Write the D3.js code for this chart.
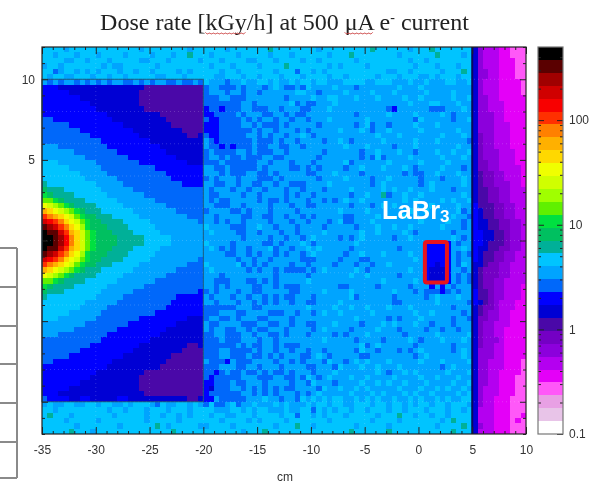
<!DOCTYPE html>
<html>
<head>
<meta charset="utf-8">
<script src="https://cdnjs.cloudflare.com/ajax/libs/d3/7.8.5/d3.min.js"></script>
<style>
  html, body { margin: 0; background: #fff; }
  svg { display: block; filter: blur(0.5px); }
  text { font-family: "Liberation Sans", sans-serif; fill: #333; }
</style>
</head>
<body>
<div id="chart"></div>
<script>
// one letter per cell = colour band, a is the lowest band, D the highest
const bandLetters = "abcdefghijklmnopqrstuvwxyzABCD";
const bandColors = [
  "#ffffff", "#e8c4e8", "#e8a0e4", "#ff58f8", "#e400f8", "#b400f0",
  "#8c00dc", "#7400c4", "#4a08a8", "#0000d4", "#0000ff", "#0068fa",
  "#00a4ff", "#00c4ff", "#00b098", "#00c060", "#00e040", "#60f000",
  "#a0ff00", "#d0ff00", "#f0ff00", "#ffd800", "#ffb000", "#ff8000",
  "#ff3000", "#f80000", "#d00000", "#a00000", "#5a0000", "#000000"
];

// 72 rows top to bottom, 90 columns: panel (30), open area (50), back wall (10)
const doseRows = [
  "nnnnmnnnnnnnnnnnnnmnnnnnnnnmnn nnnnmnnnnn nnonnnnnnn nmnnnnnnnn nonnnnnnmn nnonnnnnnn jgfffeeddd",
  "nnmnnnmnnnmnnnnmnnnnmnnnmnnonn nmnnnnmnnn nnmnnnmnnn nnnmnnnonn nnnnnnmnnn nnnonnnnmn jgfffeeddd",
  "nnnnmmnnmnnnmnnnnnmmnnnmnnnnnm nnnmnnnnmm nnnmnnnnmn nmnnnnnnmn nnnnnnnnmn nmnnnnnnnn jgfffeeedd",
  "mnnmnnnnnnnmnmmnnnnnnmnnnnnnnn nmnnnmnnnn mnnnnonnnn nnnmnmnnnn mnnnnnnnnm nnnmnnnmnn jgfffeeedd",
  "nnlmnnmnmnmnnnmnnmnnmnnnnmnmnn nnnmnnmnnn nnnmnnnlnn mnmnnnnnnn nnnnmmnnmn nnnnmnnnon jggffeeedd",
  "nmnnmmnnnmnnmnnmnnnnnmmnnnmnnn nnmmnnnmnn mnnnmnnnmn nnnmnnmnnn nnmnnnmnnn mmnmnnnmnn jggffeeedd",
  "mlmlmmlmlmlmlmmllmlmlmmllmllml nmmmlmmnmm nnmnmmnmnn mnnmmmnnnn mmnnnmmmnm mnmmmnnmmn jgfffeeeed",
  "kkkjjjjjjjjjjjjjjjjiiiiiiiiiii lmmlllmlmm mlmnmllmln mmmmnmmmlm mmmmmmnmmm nmmmmmmmmm jgfffeeeed",
  "kkkkkjjjjjjjjjjjjjiiiiiiiiiiii lmmmlmmlmm lmmmmmmnnm mlmmmmnmmm mnmmmnmmmm mnmmmmnmmm jgfffeeeed",
  "kkkkkkkjjjjjjjjjjjiiiiiiiiiiii lllmmlllmm mmmmmlmmmm nmmnnmmmnm mmnmmmmnmm nmmmmmnmmn jggffeeeee",
  "kkkkkkkkkjjjjjjjjjiiiiiiiiiiii lllllllmml mmmmmmnlml lmmmnmmmmm mmmmmmmmnm mmnnmmmnmm jggfffeeee",
  "kkkkkkkkkkjjjjjjjjjiiiiiiiiiii kllklllmml llmmlmmmll mmmnmmmmmm mmmmlkmmmm mmlllmmmnm jggfffeeee",
  "kkkkkkkkkkkkjjjjjjjjjjiiiiiiii kkllllmlmm mllmmlmllm mmmmmmmmlm mmmmnmmmmn mmmmnmlmmm jgggffeeee",
  "llkkkkkkkkkkkjjjjjjjjjjiiiiiii lkkllllmlm lmmlmmlmml mmmnmmmmmm nmmmmmmmml nmmmmmlmmn jgggffeeee",
  "lllllkkkkkkkkkkjjjjjjjjjiiiiii kkkllllmml mlllmlmmmm mlmmmmmmlm nlmmlmmmmn mmmnmmmmmm jgggfffeee",
  "lllllllkkkkkkkkkkjjjjjjjjjiiii kkkllllllm lmmlmmmlml mmmmmnmmmn mlmmnmmmmm nmmmmmmnmm jgggfffeee",
  "lllllllllkkkkkkkkkjjjjjjjjjiij lkklllllmm lmlmmlmmnm lmmmmmmmmm mmnmmmnmmm mmmmnmmmnm jhggfffeee",
  "lllllllllllkkkkkkkkkjjjjjjjjjj mlkllllllm lllmlmmlmm mmlmmnmlmm mmmnmmmmmn mmmnmmmmml jhggfffeee",
  "mmmlllllllllkkkkkkkkkkjjjjjjjj mllklklllm llmmllmmlm mmmmmmnmmm nmmmmlmmmn mmmmmmmnmm jhggfffeee",
  "mmmmmmllllllllkkkkkkkkkjjjjjjj lmllllmmlm lllmmlmmmm mmlmmmmmml mmnmmmnmml mmmnmmnmmn jhgggfffee",
  "mmmmmmmmllllllllkkkkkkkkkjjjjj lmmlmllmll lmmllmmmmm mlmmmmmmml mlnlmmmmnm mmmmnmmmnm jhgggfffee",
  "nnnmmmmmmmllllllllkkkkkkkkkjjj lllmllllll mmlmmmlmmm lmmmmmnlmm mmmmnmmmmm nmmmmnmmmm jhhggfffee",
  "nnnnnmmmmmmllllllllllkkkkkkkkk mmllmlllll mlmmmmllml mlmmmmlmmn mmmnmmmnml mmmmnmmmlm jhhggffffe",
  "nnnnnnnmmmmmlllllllllllkkkkkkk mmmlmlllmm llmlmmmmml lmmmnmmmml mmmmmmmlml lmmnmmmnmm jihhggfffe",
  "nnnnnnnnmmmmmmllllllllllkkkkkk lmlmmmlmmm lllmlmmmmm mlmmmmnmmm mlmmnmmmmm lmmmlmmmnm jihhggfffe",
  "onnnnnnnnnmmmmmlllllllllllkkkk mmllmmlmml lmmlmmlllm mmmnmmmmmm mlmnmmmmmm lmnmmmmmnm jihhgggffe",
  "pooonnnnnnnmmmmmmlllllllllllll mlmmmlmmlm mlmmmlmmlm mmlmmmmnmm mmmnmnmmnm mmnmmmlmmm jiihhggfff",
  "qpoooonnnnnnmmmmmmmlllllllllll mllmmmmlmm lmmmmlmlmm lmmmmmmlmm nmmolmmnmm nmmmmmmmnm jiihhggfff",
  "rrqpoooonnnnnnmmmmmmmlllllllll mlmllmmmmm lmllmlmmml mmlmlmnmmn mmmmmmmnmn mmmmnmnmmn jiihhggfff",
  "utsrqpoooonnnnnmmmmmmmmlllllll mmlllmmlmm mmlmmmlmml lmmmmmmlmm mlmnmnmmmm mmnmmmmnmm kiiihhggff",
  "wvutsrqpooonnnnnnmmmmmmmmlllll lmmmmllmlm mmlmmmmlmm mmmmmnmmmm nmmmmmmmnm mnmmmmmnlm kjiihhggff",
  "yxwvutrqppooonnnnnmmmmmmmmmlll mmlmmmmllm mllmmlmmlm lmmmmmllmm mmnmmmmnmm mmmmmmnmml kjiihhggff",
  "Azyxvutrqppoooonnnnnmmmmmmmmml mmlmlmmlmm mmlmmmlmml mmmlmnllmm mnmmmmmmmm nmmmmnmmlm kjjiihhggf",
  "CBAyxvusqpppoooonnnnnmmmmmmmmm nmmmmlllmm nmmlmmmlmm mmlmmmmmlm mmnmmnmmnm mmmmnmmmlm kjjiihhggf",
  "DCCAywvtrqpppoooonnnnnmmmmmmmm mnmmmmllmm lmmmlmmlmm mmnmmmmmmn mmnmmmmnml mmmmmmlmmm kkjjiihggf",
  "DDCBzxvtrqppppooooonnnnnmmmmmm mmmmmmmlmm mmlmmlmmlm nmmmmlmlmn mmmmmlmmnm mmmmmmnmlm kkjjiihggf",
  "DDCBzxvtrqppppooooonnnnnmmmmmm nmmmmlmmmm mllmlmmmnm lmmmmmmmnm mmmmmmmmmm mkkkkkmlmm kkjiiihggf",
  "DCCAywvtrqpppoooonnnnnmmmmmmmm mnmlmlmmlm mmnlmmlmmn mnmmmmmlmm mmmmmmlmmm mkkkkkmmnm kjjiihhggf",
  "CBAyxvusqpppoooonnnnnmmmmmmmmm mmmmllmmlm lmmlmlmmlm nmmmmmlmmn mmmnmmmmnm mkkkkkmlml kjiihhggff",
  "Azyxvutrqppoooonnnnnmmmmmmmmml mmmmmmlmml mmlmmmmmll lmmmmlmmml lmmmmmmmmn mkkkkkmlmm kjiihhggff",
  "yxwvutrqppooonnnnnmmmmmmmmmlll nmmmmmnlml mlmmmmlmml mmmmlmmmlm mlmmnmmmmm mkkjkkmlnm jjihhggfff",
  "wvutsrqpooonnnnnnmmmmmmmmlllll mnmmmmmmlm lmmlmllllm lmnmmmmmnm lmmmmmmmnm mkjjjkmmlm jihhhggfff",
  "utsrqpoooonnnnnmmmmmmmmlllllll mmmlmmmmmm mmmlmmmmml mmmmmmmnmm nmmmmmlmmm mkjjjkmlml jihhhggfff",
  "rrqpoooonnnnnnmmmmmmmlllllllll mmlllmmmll mlmlmmmmmn mmmmmmmmmm mmmnmmmmmn mkjjjkmlml jihhggffff",
  "qpoooonnnnnnmmmmmmmlllllllllll mmlmlmmmml lmmlmlllmm mmmmmllmmm mmlmmmmmlm mmkmkmlmmm jihhggfffe",
  "pooonnnnnnnmmmmmmllllllllllllk lmlmmmlmml lmmmmmllmm mmnmmmmnmm mmmmmnmmml mlllklmlmm kiihggfffe",
  "onnnnnnnnnmmmmmllllllllllkkkkk mlmmmlmmlm mlmlmllmmm lmmmmmmnlm mmmmmlmmmm mlmnmmmnmm kiihggfffe",
  "nnnnnnnnmmmmmmllllllllllkkkkkk mmlmmmlmml mlmlmmlmml lmmmmnmmmm mmmmmllmmm mmmnmmmmml kjihgfffee",
  "nnnnnnnmmmmmlllllllllllkkkkkkk llllllmmml lmmmmmmmmn mmmmnmmnmm nmmmnmmmnm mmmmmmlmmm jihhgfffee",
  "nnnnnmmmmmmllllllllllkkkkkkkkk lllmmmllmm mmlllmmlmm lmnmmnmmmm mnmmmmmmmn mmnmmmmmlm jihggffeee",
  "nnnmmmmmmmllllllllkkkkkkkkkjjj lmmllmlmmm llmmmmlmmm mmmmmmmmnm mmmmlmlmmm nmmmmmlmml jhhggffeee",
  "mmmmmmmmllllllllkkkkkkkkkjjjjj mllmmmmlll mmllmmlmml lmmmnmmmml mmmnmnmmmn mmlmmmlmmm jhggfffeee",
  "mmmmmmllllllllkkkkkkkkkjjjjjjj mlmmllmmlm llmmmlmmmm lmnmmmmlmm mmnmmmlmmm mlmmlmmlmm jhggffeeee",
  "mmmlllllllllkkkkkkkkkkjjjjjjjj llmmlllmml mmllmlmmml mmmmlmlmmm nmmmmmmlmm mmmnmmmmmn jhggffeeee",
  "lllllllllllkkkkkkkkkjjjjjjjjjj lllmlllmmm lmmlmmmmmm mmnmmmmmlm mmmlmmmmnm lmmmnmmmnm jhgggfeeee",
  "lllllllllkkkkkkkkkjjjjjjjjjiij llllllmlml lmmlmlllmm mmmmmmmmmn lmnmmmmmml mmmmmmlmmm jhggffeeee",
  "lllllllkkkkkkkkkkjjjjjjjjjiiii lllmmllllm lmmlmmlmml mmlmmmmmln mmlmmmlmlm nmmmmmlmnm jgggffeeee",
  "lllllkkkkkkkkkkjjjjjjjjjiiiiii lllmmlllml lmlmlmmmll mnmlmmmmml lmmmmmmmml mnmmmmmmnm jgggffeeee",
  "llkkkkkkkkkkkjjjjjjjjjjiiiiiii mlllkmlllm mmmlmmlmlm mmlnmmlmnm nmmmnmmmmm nmmmnmmmmn jggfffeeed",
  "kkkkkkkkkkkkjjjjjjjjjjiiiiiiii lllmmmllmm lmmmlmmmml lmmmlnmmmn mmnmmmnmmm mmmmlmnmmm jggfffeeed",
  "kkkkkkkkkkjjjjjjjjjiiiiiiiiiii llklmllmll mlmllmlmmm lmmmnmmmmm mmnmlmmnmn mmmmmnmmmn jggffeeeed",
  "kkkkkkkkkjjjjjjjjjiiiiiiiiiiii lklllllmmm lllmmllmln mlmnmmmnmm nmmmmnmmmm nmmnmmmnmm jggffeeedd",
  "kkkkkkkjjjjjjjjjjjiiiiiiiiiiii kklllmllmm mlmmmmlmml nmmmlmmmmn mmnmnmmnmm mnmmmmnmmn jggffeeedd",
  "kkkkkjjjjjjjjjjjjjiiiiiiiiiiii kjlllmmlml mlmlmllmmm mlnmmnmmnm nmmmmmnmmm nmmnmnmmnm jgfffeeedd",
  "kkkjjjjjjjjjjjjjjjjiiiiiiiiiii kllllllmml mlmlmmmlml mnmmmmmnmm mnmnmmmnmn mmnmmmmnmn jgfffeeedd",
  "lkkkkjjkkjjjjjkkjjjjjjjjjjjiij kkmlllllmm mnmmlmmlnm nmnmnnmmnm nmnmmnmmnm nmmnmnmmnn jgffeeeddd",
  "mnmmnnmmnnmnnmmnmnnnmlnmmnnmnm lnllmnlmmn mmmnmnmmmn mnnmnnmmnn nmnnmnnmnm nnmnnmnnnm jgffeeeddd",
  "nnmnnnnnnnnnmnnmnnnmnnnmnnnmnn nnmmmnnmnm nnmmmnmmnn lnmnmnnmnn mnnnmnnmnn nmnnnmnnmn jfffeeeddd",
  "nonnnmnnnnnnnmnnnnnmnnmnnmnmnn nmnnmmnnnm nnnnmnnlnn mnmnnnmnnn nnmnnnonnm nnmnnmnnnn jfffeeedde",
  "nnnnmnnnnnmnnnnnnnnmnnnnnmnnnn nnnmnnnnmn mnnnnmnnnn nnnmnnnnnn nmnnnnmnnn nnnnmnonnn jfffeeeded",
  "nnnnnnmnnnnnnnmnnnnnnonmnnnnnm mnnnnmnnnn nnnmnnnonn mnnnnnnnmn nnnnmnnnnn nnnmnnnnon jgffeeeddd",
  "nnnnnonnnmnnnnnnnnnnnnnnonnnnn nnnnnnnmnn nonnnnnnnn nnnnnnnonn nnnnonnnnn nnnnnnonnn jfffeeeddd"
];

const xLabelTicks = [-35, -30, -25, -20, -15, -10, -5, 0, 5, 10];
const yLabelTicks = [10, 5];
const yMajorTicks = [-10, -5, 0, 5, 10];
const doseLabelTicks = [0.1, 1, 10, 100];
const doseMinorTicks = [0.2, 0.3, 0.4, 0.5, 0.6, 0.7, 0.8, 0.9, 2, 3, 4, 5, 6, 7, 8, 9,
  20, 30, 40, 50, 60, 70, 80, 90, 200, 300, 400];
const tableLines = [248, 287, 326, 364, 403, 442, 478];

const width = 589, height = 483;
const plot = { left: 42, right: 526, top: 47, bottom: 434 };
const barLeft = 538, barRight = 563;
const cellX = 0.5, cellY = 1 / 3;

const svg = d3.select("#chart").append("svg")
  .attr("width", width)
  .attr("height", height);

const x = d3.scaleLinear().domain([-35, 10]).range([plot.left, plot.right]);
const y = d3.scaleLinear().domain([-12, 12]).range([plot.bottom, plot.top]);
const z = d3.scaleLog().domain([0.1, 500]).range([plot.bottom, plot.top]);
const bandIndex = d3.scaleLog().domain([0.1, 500]).range([0, bandColors.length]);

// unpack the rows into cells
const cells = [];
doseRows.forEach((row, r) => {
  const letters = row.replace(/ /g, "");
  for (let c = 0; c < letters.length; c++) {
    cells.push({ c: c, r: r, band: bandLetters.indexOf(letters[c]) });
  }
});

svg.append("g")
  .selectAll("rect")
  .data(cells)
  .join("rect")
  .attr("x", (d) => x(-35 + d.c * cellX))
  .attr("y", (d) => y(12 - d.r * cellY))
  .attr("width", x(cellX) - x(0))
  .attr("height", y(0) - y(cellY))
  .attr("fill", (d) => bandColors[d.band])
  .attr("shape-rendering", "crispEdges");

// faint dotted grid of the original plot
const grid = svg.append("g")
  .attr("stroke", "#fff")
  .attr("stroke-opacity", 0.18)
  .attr("stroke-dasharray", "1 3");
grid.selectAll("line.h")
  .data(d3.range(-10, 11, 2))
  .join("line")
  .attr("class", "h")
  .attr("x1", plot.left).attr("x2", plot.right)
  .attr("y1", (d) => y(d)).attr("y2", (d) => y(d));
grid.selectAll("line.v")
  .data(xLabelTicks.slice(1, -1))
  .join("line")
  .attr("class", "v")
  .attr("y1", plot.top).attr("y2", plot.bottom)
  .attr("x1", (d) => x(d)).attr("x2", (d) => x(d));

// outline of the panel and the wall
svg.append("rect")
  .attr("x", x(-35))
  .attr("y", y(10))
  .attr("width", x(-20) - x(-35))
  .attr("height", y(-10) - y(10))
  .attr("fill", "none")
  .attr("stroke", "#1c5a7c")
  .attr("stroke-width", 1);
svg.append("line")
  .attr("x1", x(5)).attr("x2", x(5))
  .attr("y1", plot.top).attr("y2", plot.bottom)
  .attr("stroke", "#08085c")
  .attr("stroke-width", 2);

// LaBr3 box
svg.append("rect")
  .attr("x", x(0.6))
  .attr("y", y(-0.1))
  .attr("width", x(2.65) - x(0.6))
  .attr("height", y(-2.6) - y(-0.1))
  .attr("rx", 2)
  .attr("fill", "none")
  .attr("stroke", "#e8141c")
  .attr("stroke-width", 4);

const labr = svg.append("text")
  .attr("x", 382)
  .attr("y", 219)
  .attr("font-size", 25.5)
  .attr("font-weight", "bold")
  .style("fill", "#fff");
labr.append("tspan").text("LaBr");
labr.append("tspan").attr("font-size", 17).attr("dy", 3).text("3");

// axes
function styleAxis(g) {
  g.select(".domain").remove();
  g.selectAll("line").attr("stroke", "#222");
  g.selectAll("text").attr("font-size", 12);
}
const xMinor = d3.range(-35, 11).filter((d) => d % 5 != 0);
svg.append("g").attr("transform", `translate(0,${plot.bottom})`)
  .call(d3.axisBottom(x).tickValues(xMinor).tickSize(-3).tickFormat("")).call(styleAxis);
svg.append("g").attr("transform", `translate(0,${plot.bottom})`)
  .call(d3.axisBottom(x).tickValues(xLabelTicks).tickSize(-7).tickPadding(11)
    .tickFormat((d) => d)).call(styleAxis);
svg.append("g").attr("transform", `translate(0,${plot.top})`)
  .call(d3.axisTop(x).tickValues(xMinor).tickSize(-3).tickFormat("")).call(styleAxis);
svg.append("g").attr("transform", `translate(0,${plot.top})`)
  .call(d3.axisTop(x).tickValues(xLabelTicks).tickSize(-7).tickFormat("")).call(styleAxis);

const yMinor = d3.range(-12, 13).filter((d) => d % 5 != 0);
svg.append("g").attr("transform", `translate(${plot.left},0)`)
  .call(d3.axisLeft(y).tickValues(yMinor).tickSize(-3).tickFormat("")).call(styleAxis);
svg.append("g").attr("transform", `translate(${plot.left},0)`)
  .call(d3.axisLeft(y).tickValues(yMajorTicks).tickSize(-6).tickFormat("")).call(styleAxis);
svg.append("g").attr("transform", `translate(${plot.left},0)`)
  .call(d3.axisLeft(y).tickValues(yLabelTicks).tickSize(0).tickPadding(7)
    .tickFormat((d) => d)).call(styleAxis);
svg.append("g").attr("transform", `translate(${plot.right},0)`)
  .call(d3.axisRight(y).tickValues(yMinor).tickSize(-3).tickFormat("")).call(styleAxis);
svg.append("g").attr("transform", `translate(${plot.right},0)`)
  .call(d3.axisRight(y).tickValues(yMajorTicks).tickSize(-6).tickFormat("")).call(styleAxis);

svg.append("rect")
  .attr("x", plot.left).attr("y", plot.top)
  .attr("width", plot.right - plot.left).attr("height", plot.bottom - plot.top)
  .attr("fill", "none")
  .attr("stroke", "#222")
  .attr("stroke-width", 1.2);

// colour bar
svg.append("g")
  .selectAll("rect")
  .data(bandColors)
  .join("rect")
  .attr("x", barLeft)
  .attr("width", barRight - barLeft)
  .attr("y", (d, i) => z(bandIndex.invert(i + 1)))
  .attr("height", (d, i) => z(bandIndex.invert(i)) - z(bandIndex.invert(i + 1)))
  .attr("fill", (d) => d)
  .attr("shape-rendering", "crispEdges");

svg.append("g").attr("transform", `translate(${barRight},0)`)
  .call(d3.axisRight(z).tickValues(doseMinorTicks).tickSize(-3).tickFormat("")).call(styleAxis);
svg.append("g").attr("transform", `translate(${barLeft},0)`)
  .call(d3.axisLeft(z).tickValues(doseMinorTicks).tickSize(-3).tickFormat("")).call(styleAxis);
svg.append("g").attr("transform", `translate(${barLeft},0)`)
  .call(d3.axisLeft(z).tickValues(doseLabelTicks.slice(1)).tickSize(-6).tickFormat("")).call(styleAxis);
svg.append("g").attr("transform", `translate(${barRight},0)`)
  .call(d3.axisRight(z).tickValues(doseLabelTicks).tickSize(6).tickPadding(0)
    .tickFormat((d) => d)).call(styleAxis)
  .call((g) => g.selectAll("line").attr("x2", -6));

svg.append("rect")
  .attr("x", barLeft).attr("y", plot.top)
  .attr("width", barRight - barLeft).attr("height", plot.bottom - plot.top)
  .attr("fill", "none")
  .attr("stroke", "#777")
  .attr("stroke-width", 1.2);

svg.append("text")
  .attr("x", 285)
  .attr("y", 481)
  .attr("text-anchor", "middle")
  .attr("font-size", 12)
  .text("cm");

// title, with the spell-check squiggles of the original slide
const title = svg.append("text")
  .attr("x", 284.5)
  .attr("y", 30)
  .attr("text-anchor", "middle")
  .attr("font-size", 24)
  .style("font-family", "'Liberation Serif', serif")
  .style("fill", "#222");
title.append("tspan").text("Dose rate [kGy/h] at 500 \u03bcA e");
title.append("tspan").attr("font-size", 14).attr("dy", -8).text("-");
title.append("tspan").attr("dy", 8).text(" current");

const titleText = title.text();
[["kGy", 3], ["\u03bcA", 2]].forEach(([word, len]) => {
  const start = titleText.indexOf(word);
  const a = title.node().getExtentOfChar(start);
  const b = title.node().getExtentOfChar(start + len - 1);
  const pts = d3.range(a.x, b.x + b.width, 2).map((px, i) => [px, 33.5 + (i % 2 ? 1.2 : -1.2)]);
  svg.append("path")
    .attr("d", d3.line().curve(d3.curveBasis)(pts))
    .attr("fill", "none")
    .attr("stroke", "#c83a3a")
    .attr("stroke-width", 1);
});

// edge of the table that is cut off on the left of the slide
svg.append("g")
  .attr("stroke", "#8a8a8a")
  .attr("stroke-width", 2)
  .call((g) => g.selectAll("line")
    .data(tableLines)
    .join("line")
    .attr("x1", 0).attr("x2", 17)
    .attr("y1", (d) => d).attr("y2", (d) => d))
  .append("line")
  .attr("x1", 17).attr("x2", 17)
  .attr("y1", tableLines[0]).attr("y2", tableLines[tableLines.length - 1]);
</script>
</body>
</html>
